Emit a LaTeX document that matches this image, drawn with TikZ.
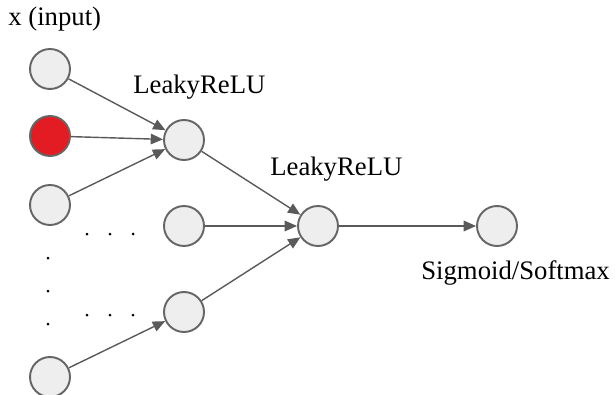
\documentclass[tikz,border=0pt]{standalone}
\usepackage{fontspec}
\setmainfont{Liberation Serif}
\usetikzlibrary{arrows.meta}
\definecolor{nodefill}{HTML}{EEEEEE}
\definecolor{nodeline}{HTML}{666666}
\definecolor{edgecol}{HTML}{5A5A5A}
\definecolor{hotred}{HTML}{E31B23}
\tikzset{
    neuron/.style={circle, draw=nodeline, fill=nodefill, line width=1.1pt, minimum size=0.8cm, inner sep=0pt},
    link/.style={draw=edgecol, line width=0.8pt, -{Triangle[length=7pt, width=6pt]}},
    lbl/.style={anchor=base west, inner sep=0pt, font=\fontsize{15.2}{18}\selectfont}
}
\begin{document}
\begin{tikzpicture}[x=0.02cm, y=-0.02cm]
    \useasboundingbox (0,0) rectangle (615,395);
    % input layer
    \node[neuron] (in1) at (50,69) {};
    \node[neuron, fill=hotred] (in2) at (50,136) {};
    \node[neuron] (in3) at (50,205) {};
    \node[neuron] (in4) at (50,377) {};
    % hidden layers
    \node[neuron] (ha) at (184,140) {};
    \node[neuron] (hb) at (184,226) {};
    \node[neuron] (hc) at (184,312) {};
    \node[neuron] (hd) at (318,226) {};
    % output
    \node[neuron] (out) at (497,226) {};
    % labels
    \node[lbl] (xin) at (8,26) {x (input)};
    \node[lbl] (act1) at (133,93) {LeakyReLU};
    \node[lbl] (act2) at (270,175) {LeakyReLU};
    \node[lbl] (act3) at (421,279) {Sigmoid/Softmax};
    % connections
    \draw[link] (in1) -- (ha);
    \draw[link] (in2) -- (ha);
    \draw[link] (in3) -- (ha);
    \draw[link] (in4) -- (hc);
    \draw[link] (ha) -- (hd);
    \draw[link] (hb) -- (hd);
    \draw[link] (hc) -- (hd);
    \draw[link] (hd) -- (out);
    % dots
    \foreach \x in {87,110,133} {
        \fill (\x,234) circle (1.5);
        \fill (\x,315) circle (1.5);
    }
    \foreach \y in {258,291,324}
        \fill (48,\y) circle (1.5);
\end{tikzpicture}
\end{document}
